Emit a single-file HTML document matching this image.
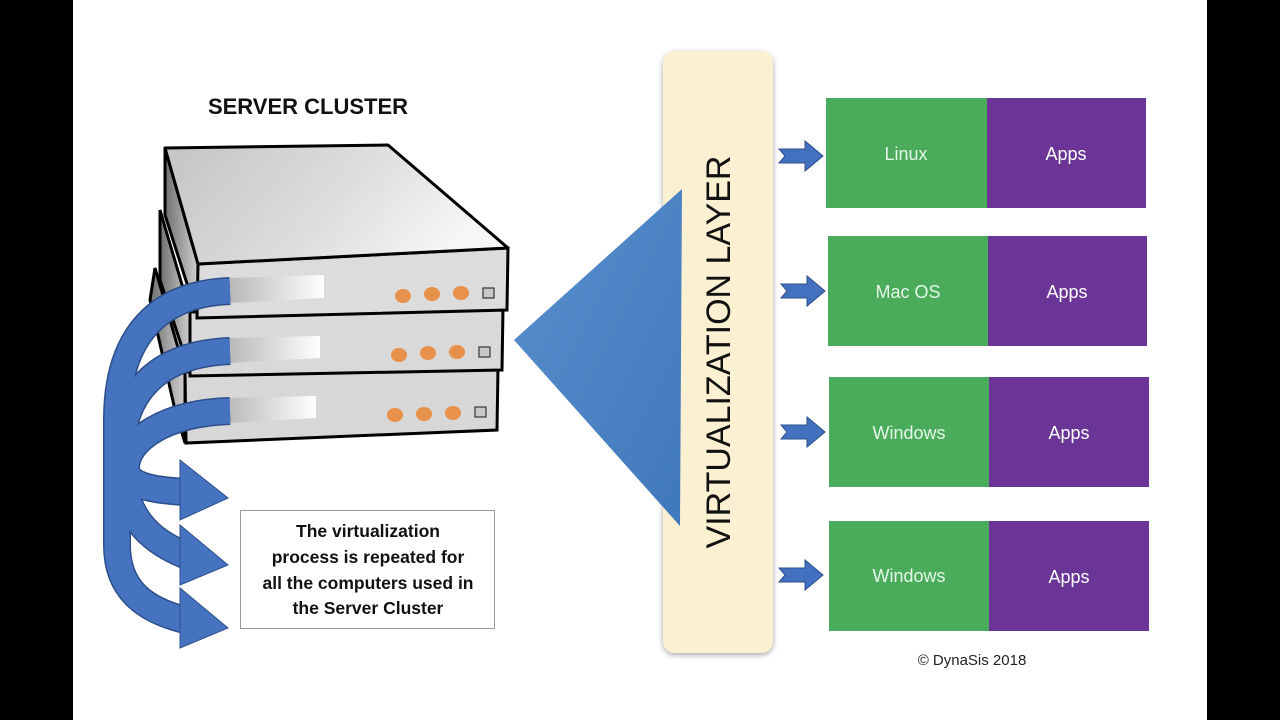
<!DOCTYPE html>
<html><head><meta charset="utf-8"><style>
html,body{margin:0;padding:0;background:#000;}
svg{display:block}
text{font-family:"Liberation Sans",sans-serif}
</style></head><body>
<svg width="1280" height="720" viewBox="0 0 1280 720" xmlns="http://www.w3.org/2000/svg">
<defs>
<linearGradient id="top" x1="0" y1="0" x2="1" y2="0.3"><stop offset="0" stop-color="#c4c4c4"/><stop offset="0.6" stop-color="#dedede"/><stop offset="1" stop-color="#f6f6f6"/></linearGradient>
<linearGradient id="side" x1="0" y1="0" x2="1" y2="0"><stop offset="0" stop-color="#6f6f6f"/><stop offset="1" stop-color="#d0d0d0"/></linearGradient>
<linearGradient id="slot" x1="0" y1="0" x2="1" y2="0"><stop offset="0" stop-color="#b8b8b8"/><stop offset="1" stop-color="#ffffff"/></linearGradient>
<linearGradient id="tri" x1="0" y1="0" x2="1" y2="1"><stop offset="0" stop-color="#5a8fce"/><stop offset="1" stop-color="#3f78bb"/></linearGradient>
<filter id="sh" x="-20%" y="-5%" width="140%" height="110%"><feDropShadow dx="0" dy="2" stdDeviation="3" flood-color="#000" flood-opacity="0.35"/></filter>
</defs>
<rect x="73" y="0" width="1134" height="720" fill="#ffffff"/>
<text x="308" y="114" font-size="22" font-weight="bold" text-anchor="middle" fill="#111">SERVER CLUSTER</text>

<!-- server stack side faces -->
<polygon points="155,268 185,372 185,443 175,410 150,300" fill="url(#side)" stroke="#000" stroke-width="3"/>
<polygon points="160,210 190,312 190,372 160,280" fill="url(#side)" stroke="#000" stroke-width="3"/>
<polygon points="165,148 198,264 198,318 165,215" fill="url(#side)" stroke="#000" stroke-width="3"/>
<!-- bottom server -->
<polygon points="185,372 498,368 497,430 186,443" fill="#d7d7d7" stroke="#000" stroke-width="3"/>
<!-- middle -->
<polygon points="190,312 503,308 502,370 190,376" fill="#d9d9d9" stroke="#000" stroke-width="3"/>
<!-- top front -->
<polygon points="198,264 508,248 507,310 197,318" fill="#dcdcdc" stroke="#000" stroke-width="3"/>
<!-- top face -->
<polygon points="165,148 388,145 508,248 198,264" fill="url(#top)" stroke="#000" stroke-width="3" stroke-linejoin="round"/>
<!-- slots -->
<polygon points="230,278 324,275 324,298 230,303" fill="url(#slot)"/>
<polygon points="228,338 320,336 320,358 228,363" fill="url(#slot)"/>
<polygon points="226,398 316,396 316,418 226,423" fill="url(#slot)"/>
<!-- lights -->
<g fill="#e8914a">
<ellipse cx="403" cy="296" rx="8" ry="7"/><ellipse cx="432" cy="294" rx="8" ry="7"/><ellipse cx="461" cy="293" rx="8" ry="7"/>
<ellipse cx="399" cy="355" rx="8" ry="7"/><ellipse cx="428" cy="353" rx="8" ry="7"/><ellipse cx="457" cy="352" rx="8" ry="7"/>
<ellipse cx="395" cy="415" rx="8" ry="7"/><ellipse cx="424" cy="414" rx="8" ry="7"/><ellipse cx="453" cy="413" rx="8" ry="7"/>
</g>
<g fill="#c8c8c8" stroke="#333" stroke-width="1.2">
<rect x="483" y="288" width="11" height="10"/><rect x="479" y="347" width="11" height="10"/><rect x="475" y="407" width="11" height="10"/>
</g>

<!-- curved arrows -->
<g fill="none" stroke="#2c4f8a" stroke-width="28" stroke-linecap="butt">
<path d="M230,291 C150,294 117,345 117,420 L117,545 C117,590 145,610 185,620"/>
<path d="M230,351 C155,354 121,395 121,455 C121,515 148,540 185,555"/>
<path d="M230,411 C165,413 126,440 126,468 C126,485 150,490 185,492"/>
</g>
<g fill="none" stroke="#4673c0" stroke-width="25" stroke-linecap="butt">
<path d="M230,291 C150,294 117,345 117,420 L117,545 C117,590 145,610 185,620"/>
<path d="M230,351 C155,354 121,395 121,455 C121,515 148,540 185,555"/>
<path d="M230,411 C165,413 126,440 126,468 C126,485 150,490 185,492"/>
</g>
<g fill="#4673c0" stroke="#2c4f8a" stroke-width="1">
<polygon points="180,460 228,498 180,520"/>
<polygon points="180,525 228,565 180,585"/>
<polygon points="180,588 228,628 180,648"/>
</g>

<!-- text box -->
<rect x="240.5" y="510.5" width="254" height="118" fill="#fff" stroke="#999" stroke-width="1"/>
<g font-size="17.5" font-weight="bold" fill="#111" text-anchor="middle">
<text x="368" y="537">The virtualization</text>
<text x="368" y="563">process is repeated for</text>
<text x="368" y="589">all the computers used in</text>
<text x="368" y="614">the Server Cluster</text>
</g>

<!-- virtualization layer -->
<rect x="663" y="51" width="110" height="602" rx="12" fill="#fbf1d2" filter="url(#sh)"/>
<polygon points="514,340 682,189 680,526" fill="url(#tri)"/>
<text transform="translate(730,352) rotate(-90)" font-size="34" fill="#111" text-anchor="middle">VIRTUALIZATION LAYER</text>

<!-- small arrows -->
<g fill="#4470c0" stroke="#2c4f8a" stroke-width="1">
<polygon points="779,149 805,149 805,141 823,156 805,171 805,163 779,163 785,156"/>
<polygon points="781,284 807,284 807,276 825,291 807,306 807,298 781,298 787,291"/>
<polygon points="781,425 807,425 807,417 825,432 807,447 807,439 781,439 787,432"/>
<polygon points="779,568 805,568 805,560 823,575 805,590 805,582 779,582 785,575"/>
</g>

<!-- OS boxes -->
<g>
<rect x="826" y="98" width="161" height="110" fill="#4aab5a"/><rect x="987" y="98" width="159" height="110" fill="#6a3597"/>
<rect x="828" y="236" width="160" height="110" fill="#4aab5a"/><rect x="988" y="236" width="159" height="110" fill="#6a3597"/>
<rect x="829" y="377" width="160" height="110" fill="#4aab5a"/><rect x="989" y="377" width="160" height="110" fill="#6a3597"/>
<rect x="829" y="521" width="160" height="110" fill="#4aab5a"/><rect x="989" y="521" width="160" height="110" fill="#6a3597"/>
</g>
<g font-size="18" text-anchor="middle">
<text x="906" y="160" fill="#e6f7ea">Linux</text><text x="1066" y="160" fill="#fff">Apps</text>
<text x="908" y="298" fill="#e6f7ea">Mac OS</text><text x="1067" y="298" fill="#fff">Apps</text>
<text x="909" y="439" fill="#e6f7ea">Windows</text><text x="1069" y="439" fill="#fff">Apps</text>
<text x="909" y="582" fill="#e6f7ea">Windows</text><text x="1069" y="583" fill="#fff">Apps</text>
</g>
<text x="972" y="665" font-size="15" fill="#222" text-anchor="middle">© DynaSis 2018</text>
</svg>
</body></html>
